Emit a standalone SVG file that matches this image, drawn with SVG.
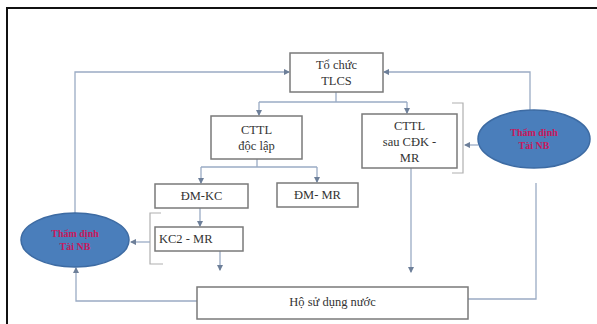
<svg xmlns="http://www.w3.org/2000/svg" width="597" height="324" viewBox="0 0 597 324">
<style>
.box{fill:#fff;stroke:#7a7a7a;stroke-width:1.5}
.t{font-family:"Liberation Serif","Times New Roman",serif;font-size:12.5px;fill:#333;text-anchor:middle}
.ts{text-anchor:start}
.c{fill:none;stroke:#9aabc4;stroke-width:1.3}
.br{fill:none;stroke:#b0b0b0;stroke-width:1.2}
.el{fill:#4a7ebb;stroke:#3d6ba3;stroke-width:1.5}
.et{font-family:"Liberation Serif","Times New Roman",serif;font-size:10px;font-weight:bold;fill:#c8185c;text-anchor:middle}
</style>
<defs>
<marker id="a" viewBox="0 0 6 6" refX="5" refY="3" markerWidth="5" markerHeight="5" orient="auto">
<path d="M0,0 L6,3 L0,6 Z" fill="#6d7f99"/>
</marker>
</defs>
<rect x="0" y="0" width="597" height="324" fill="#fff"/>
<path d="M7,324 V8 H597" fill="none" stroke="#111" stroke-width="2"/>
<g id="connectors">
<path class="c" d="M75,213 V72 H289" marker-end="url(#a)"/>
<path class="c" d="M530,110 V72 H384" marker-end="url(#a)"/>
<path class="c" d="M336,92 V102"/>
<path class="c" d="M259,102 H407"/>
<path class="c" d="M259,102 V115" marker-end="url(#a)"/>
<path class="c" d="M407,102 V113" marker-end="url(#a)"/>
<path class="c" d="M257,159 V167"/>
<path class="c" d="M201,167 H317"/>
<path class="c" d="M201,167 V183" marker-end="url(#a)"/>
<path class="c" d="M317,167 V182" marker-end="url(#a)"/>
<path class="c" d="M200,208 V226" marker-end="url(#a)"/>
<path class="c" d="M220,251 V270" marker-end="url(#a)"/>
<path class="c" d="M411,168 V272" marker-end="url(#a)"/>
<path class="br" d="M161,213 H150 V264 H163"/>
<path class="c" d="M150,242 H131" marker-end="url(#a)"/>
<path class="br" d="M452,103 H463 V173 H452"/>
<path class="c" d="M478,145 H465" marker-end="url(#a)"/>
<path class="c" d="M468,299 H536 V183"/>
<path class="c" d="M197,301 H76 V268" marker-end="url(#a)"/>
</g>
<g id="n-tochuc">
<rect class="box" x="290" y="53" width="93" height="39"/>
<text class="t" x="336.5" y="69">Tổ chức</text>
<text class="t" x="336.5" y="85">TLCS</text>
</g>
<g id="n-cttl-doclap">
<rect class="box" x="211" y="116" width="91" height="43"/>
<text class="t" x="256.5" y="134">CTTL</text>
<text class="t" x="256.5" y="150">độc lập</text>
</g>
<g id="n-cttl-sau">
<rect class="box" x="362" y="114" width="95" height="54"/>
<text class="t" x="409.5" y="130">CTTL</text>
<text class="t" x="409.5" y="146">sau CĐK -</text>
<text class="t" x="409.5" y="162">MR</text>
</g>
<g id="n-dmkc">
<rect class="box" x="155" y="184" width="93" height="24"/>
<text class="t" x="201.5" y="200">ĐM-KC</text>
</g>
<g id="n-dmmr">
<rect class="box" x="277" y="183" width="81" height="24"/>
<text class="t" x="317.5" y="199">ĐM- MR</text>
</g>
<g id="n-kc2mr">
<rect class="box" x="155" y="227" width="88" height="24"/>
<text class="t ts" x="159" y="243">KC2 - MR</text>
</g>
<g id="n-ho">
<rect class="box" x="197" y="287" width="271" height="32"/>
<text class="t" x="332.5" y="306">Hộ sử dụng nước</text>
</g>
<g id="n-ellipse-left">
<ellipse class="el" cx="75" cy="240" rx="54" ry="27"/>
<text class="et" x="75" y="237">Thẩm định</text>
<text class="et" x="75" y="250">Tài NB</text>
</g>
<g id="n-ellipse-right">
<ellipse class="el" cx="534" cy="139" rx="56" ry="29"/>
<text class="et" x="534" y="136">Thẩm định</text>
<text class="et" x="534" y="149">Tài NB</text>
</g>
</svg>
